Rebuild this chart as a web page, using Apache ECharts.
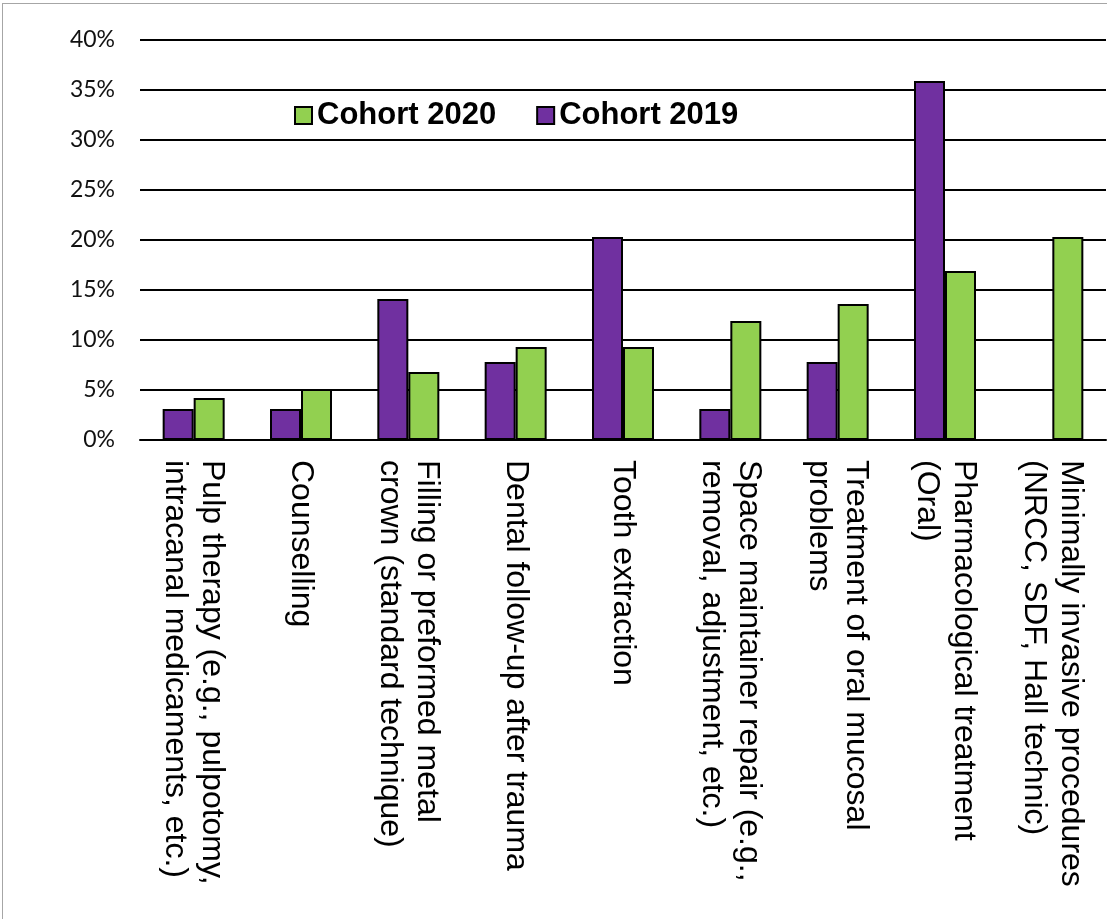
<!DOCTYPE html>
<html>
<head>
    <meta charset="UTF-8">
    <script src="https://cdn.jsdelivr.net/npm/echarts@6/dist/echarts.min.js"></script>
    <style>
        body { margin: 0; background: #fff; }
        #frame { position: absolute; left: 2px; top: 3px; width: 1120px; height: 930px; border: 1px solid #a6a6a6; }
        #chart { position: absolute; left: 0; top: 0; width: 1107px; height: 919px; }
    </style>
</head>
<body>
    <div id="frame"></div>
    <div id="chart"></div>
    <script type="text/javascript">
        // categories and values (percent)
        var categories = [
            'Pulp therapy (e.g., pulpotomy,\nintracanal medicaments, etc.)',
            'Counselling',
            'Filling or preformed metal\ncrown (standard technique)',
            'Dental follow-up after trauma',
            'Tooth extraction',
            'Space maintainer repair (e.g.,\nremoval, adjustment, etc.)',
            'Treatment of oral mucosal\nproblems',
            'Pharmacological treatment\n(Oral)',
            'Minimally invasive procedures\n(NRCC, SDF, Hall technic)'
        ];
        var cohort2019 = [3.1, 3.1, 14.1, 7.8, 20.3, 3.1, 7.8, 35.9, 0];
        var cohort2020 = [4.2, 5.1, 6.8, 9.3, 9.3, 11.9, 13.6, 16.9, 20.3];

        var chart = echarts.init(document.getElementById('chart'));

        var option = {
            animation: false,
            color: ['#7030a0', '#92d050'],
            legend: {
                data: ['Cohort 2020', 'Cohort 2019'],
                left: 289,
                top: 95,
                icon: 'rect',
                itemWidth: 17,
                itemHeight: 17,
                itemGap: 40,
                textStyle: {
                    fontFamily: 'Liberation Sans',
                    fontSize: 31,
                    fontWeight: 'bold',
                    color: '#000'
                }
            },
            grid: {
                left: 140,
                right: 1,
                top: 40,
                bottom: 479
            },
            xAxis: {
                type: 'category',
                data: categories,
                axisLine: { lineStyle: { color: '#000', width: 2 } },
                axisTick: { show: false },
                axisLabel: {
                    rotate: -90,
                    interval: 0,
                    margin: 20,
                    fontFamily: 'Liberation Sans',
                    fontSize: 32,
                    lineHeight: 37,
                    color: '#000'
                }
            },
            yAxis: {
                type: 'value',
                min: 0,
                max: 40,
                interval: 5,
                axisLine: { show: false },
                axisTick: { show: false },
                splitLine: { lineStyle: { color: '#000', width: 2 } },
                axisLabel: {
                    formatter: '{value}%',
                    margin: 25,
                    fontFamily: 'Lato',
                    fontSize: 23,
                    color: '#111'
                }
            },
            series: [{
                name: 'Cohort 2019',
                type: 'bar',
                barWidth: 31,
                barGap: 0,
                data: cohort2019,
                itemStyle: { borderColor: '#000', borderWidth: 2 }
            }, {
                name: 'Cohort 2020',
                type: 'bar',
                barWidth: 31,
                barGap: 0,
                data: cohort2020,
                itemStyle: { borderColor: '#000', borderWidth: 2 }
            }]
        };

        chart.setOption(option);
    </script>
</body>
</html>
